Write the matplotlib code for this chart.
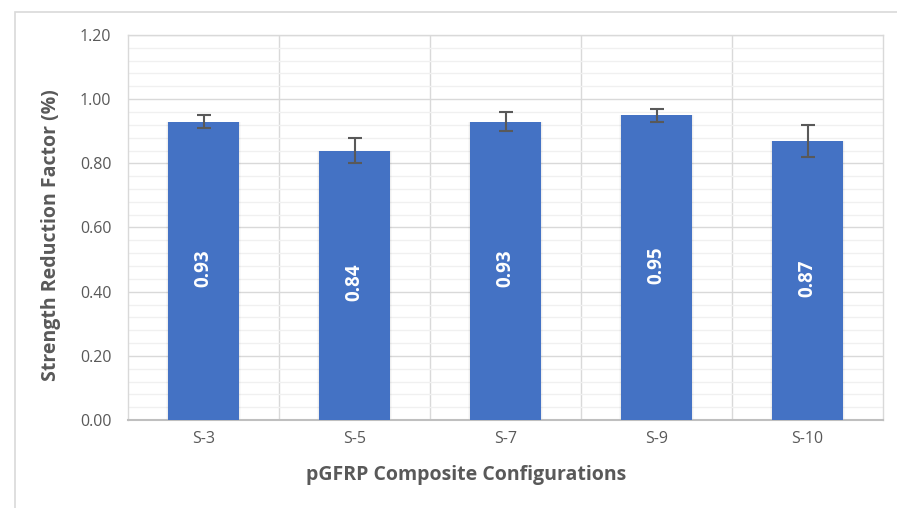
import numpy as np
import matplotlib.pyplot as plt
from matplotlib.patches import Rectangle
from matplotlib.ticker import MultipleLocator

categories = ["S-3", "S-5", "S-7", "S-9", "S-10"]
values = [0.93, 0.84, 0.93, 0.95, 0.87]
errors = [0.02, 0.04, 0.03, 0.02, 0.05]

plt.rcParams["font.family"] = ["Open Sans", "DejaVu Sans"]

fig = plt.figure(figsize=(8.97, 5.08), dpi=100)
fig.patch.set_facecolor("white")
ax = fig.add_axes([128 / 897, 88 / 508, 755 / 897, 385 / 508])

# outer chart border (only left/top visible in the reference)
fig.patches.append(Rectangle((15 / 897, -0.1), 1.2, (508 - 12) / 508 + 0.1,
                             transform=fig.transFigure, fill=False,
                             edgecolor="#D9D9D9", linewidth=1.2, zorder=0))

x = np.arange(len(categories))
bar_w = 0.47

# faint shadow along the bar sides
for xi, v in zip(x, values):
    for k, a in enumerate([0.04, 0.025]):
        d = 0.008 * (k + 1)
        ax.add_patch(Rectangle((xi - bar_w / 2 - d, 0), bar_w + 2 * d, v,
                               facecolor="black", alpha=a, linewidth=0, zorder=2))

ax.bar(x, values, width=bar_w, color="#4472C4", zorder=3)
ax.errorbar(x, values, yerr=errors, fmt="none", ecolor="#595959",
            elinewidth=1.5, capsize=5, capthick=1.5, zorder=4)

for xi, v in zip(x, values):
    ax.text(xi, v / 2 + 0.008, f"{v:.2f}", rotation=90, ha="center", va="center",
            color="white", fontsize=13.5, fontweight="bold", zorder=5)

ax.set_xlim(-0.5, len(categories) - 0.5)
ax.set_ylim(0, 1.2)
ax.yaxis.set_major_locator(MultipleLocator(0.2))
ax.yaxis.set_minor_locator(MultipleLocator(0.04))
ax.yaxis.set_major_formatter(plt.FuncFormatter(lambda v, p: f"{v:.2f}"))

ax.grid(axis="y", which="major", color="#D9D9D9", linewidth=1.0, zorder=1)
ax.grid(axis="y", which="minor", color="#F0F0F0", linewidth=1.0, zorder=0.5)
for b in np.arange(0.5, len(categories) - 0.5, 1):
    ax.axvline(b, color="#D9D9D9", linewidth=1.0, zorder=1)

ax.set_xticks(x)
ax.set_xticklabels(categories)
ax.tick_params(axis="both", which="both", length=0, colors="#595959", labelsize=11.5)
ax.tick_params(axis="x", pad=8)
ax.tick_params(axis="y", pad=12)

for side in ["left", "top", "right"]:
    ax.spines[side].set_color("#D9D9D9")
    ax.spines[side].set_linewidth(1.0)
ax.spines["bottom"].set_color("#BFBFBF")
ax.spines["bottom"].set_linewidth(1.5)

ax.set_xlabel("pGFRP Composite Configurations", fontsize=14, fontweight="bold",
              color="#595959")
ax.xaxis.set_label_coords((466 - 128) / 755, -45 / 385)
ax.set_ylabel("Strength Reduction Factor (%)", fontsize=14, fontweight="bold",
              color="#595959")
ax.yaxis.set_label_coords(-67 / 755, 0.48)

fig.savefig("out.png", dpi=100)
